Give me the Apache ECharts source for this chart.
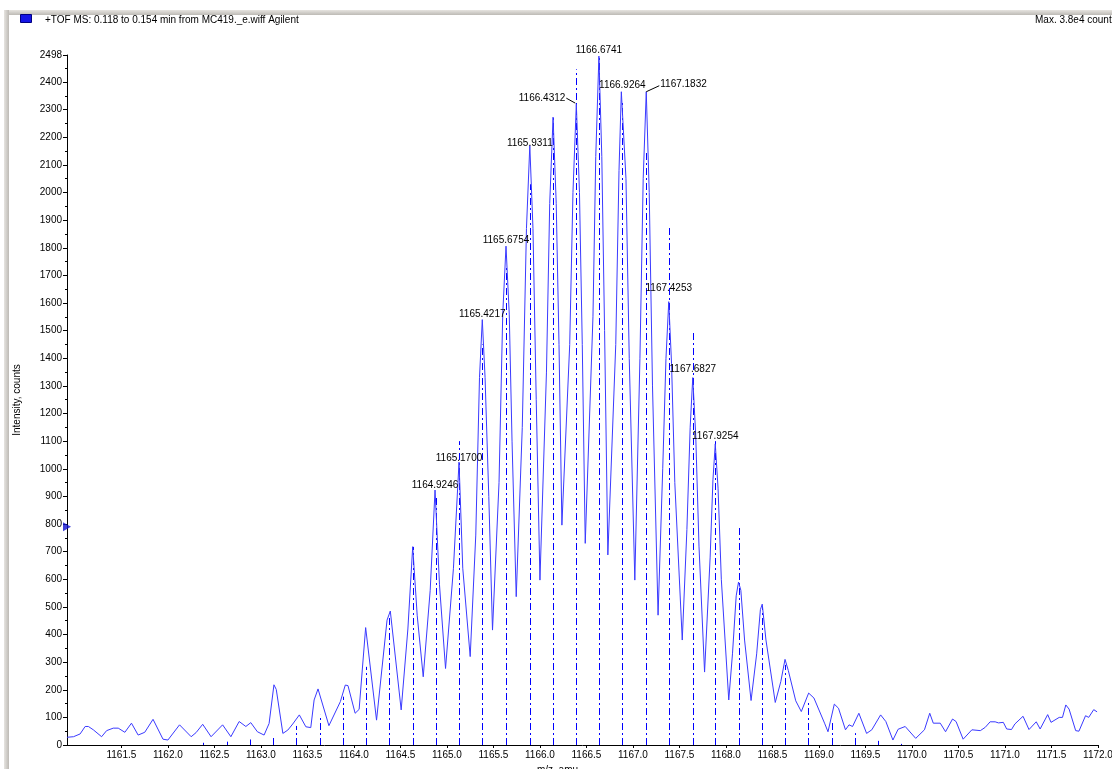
<!DOCTYPE html>
<html><head><meta charset="utf-8">
<script src="https://cdn.jsdelivr.net/npm/echarts@6/dist/echarts.min.js"></script>
<style>html,body{margin:0;padding:0;background:#fff;}#c{width:1112px;height:769px;}</style>
</head><body><div id="c"></div>
<script>
// ---- data ----
const profileMz = [1160.915,1160.985,1161.056,1161.11,1161.145,1161.198,1161.287,1161.341,1161.412,1161.466,1161.537,1161.608,1161.68,1161.751,1161.84,1161.947,1162.0,1162.125,1162.25,1162.303,1162.374,1162.464,1162.588,1162.677,1162.766,1162.838,1162.891,1162.962,1163.034,1163.088,1163.14,1163.165,1163.236,1163.289,1163.342,1163.413,1163.483,1163.536,1163.572,1163.614,1163.731,1163.854,1163.907,1163.936,1164.013,1164.056,1164.126,1164.243,1164.356,1164.391,1164.508,1164.58,1164.632,1164.68,1164.745,1164.82,1164.872,1164.92,1164.985,1165.07,1165.13,1165.17,1165.25,1165.31,1165.35,1165.38,1165.41,1165.45,1165.49,1165.56,1165.60,1165.635,1165.67,1165.70,1165.745,1165.81,1165.855,1165.891,1165.925,1165.96,1166.0,1166.07,1166.105,1166.141,1166.175,1166.205,1166.236,1166.32,1166.355,1166.391,1166.425,1166.455,1166.487,1166.57,1166.60,1166.634,1166.665,1166.695,1166.73,1166.815,1166.85,1166.875,1166.895,1166.925,1166.96,1167.02,1167.075,1167.11,1167.143,1167.175,1167.21,1167.27,1167.32,1167.355,1167.385,1167.415,1167.45,1167.53,1167.58,1167.615,1167.643,1167.675,1167.71,1167.77,1167.83,1167.86,1167.885,1167.915,1167.95,1168.03,1168.07,1168.11,1168.135,1168.16,1168.2,1168.27,1168.33,1168.37,1168.39,1168.43,1168.53,1168.59,1168.635,1168.67,1168.75,1168.81,1168.889,1168.946,1169.06,1169.097,1169.165,1169.21,1169.285,1169.323,1169.361,1169.429,1169.512,1169.568,1169.663,1169.719,1169.795,1169.851,1169.927,1170.04,1170.134,1170.191,1170.229,1170.304,1170.361,1170.436,1170.474,1170.55,1170.644,1170.735,1170.788,1170.84,1170.894,1170.93,1170.982,1171.018,1171.07,1171.106,1171.194,1171.258,1171.336,1171.378,1171.459,1171.495,1171.583,1171.618,1171.654,1171.689,1171.76,1171.795,1171.866,1171.90,1171.954,1171.99];
const profileInt = [28,30,40,67,67,55,30,52,61,61,46,79,36,46,93,21,18,73,30,45,75,30,73,30,85,67,81,48,36,78,218,201,42,54,76,109,66,63,163,203,70,157,217,215,115,129,425,90,452,485,127,420,718,470,247,560,923,580,277,640,1024,640,320,760,1330,1540,1330,900,416,950,1560,1806,1560,1100,537,1150,1870,2170,1870,1250,597,1350,1960,2273,1960,1450,796,1450,2000,2320,2000,1450,730,1550,2130,2494,2130,1500,688,1450,2080,2365,2360,2050,1400,597,1400,2050,2365,2000,1300,470,1000,1400,1605,1380,950,380,780,1150,1330,1120,720,264,680,960,1090,930,600,163,330,540,590,560,380,161,330,490,510,380,154,230,310,270,160,121,188,170,79,48,148,133,55,73,67,115,42,55,109,85,18,57,67,24,55,115,79,79,48,94,85,21,55,52,64,84,84,80,82,58,56,76,104,56,84,58,110,82,100,100,145,130,52,50,106,100,128,120];
const stickMz = [1162.38,1162.63,1162.88,1163.13,1163.38,1163.63,1163.88,1164.13,1164.38,1164.63,1164.885,1165.13,1165.382,1165.635,1165.891,1166.141,1166.391,1166.634,1166.886,1167.143,1167.385,1167.643,1167.885,1168.135,1168.385,1168.635,1168.885,1169.135,1169.385,1169.635,1169.885];
const stickInt = [8,12,20,28,69,109,175,283,470,717,900,1100,1450,1730,2030,2273,2446,2490,2330,2150,1880,1500,1100,795,500,290,163,90,43,15,4];
const peakLabelText = ['1164.9246','1165.1700','1165.4217','1165.6754','1165.9311','1166.4312','1166.6741','1166.9264','1167.1832','1167.4253','1167.6827','1167.9254'];
const peakLabelMz = [1164.872,1165.13,1165.38,1165.635,1165.891,1166.391,1166.634,1166.886,1167.143,1167.385,1167.643,1167.885];
const peakLabelInt = [923,1024,1540,1806,2170,2320,2494,2365,2365,1605,1330,1090];
const xTickValues = [1161.5,1162.0,1162.5,1163.0,1163.5,1164.0,1164.5,1165.0,1165.5,1166.0,1166.5,1167.0,1167.5,1168.0,1168.5,1169.0,1169.5,1170.0,1170.5,1171.0,1171.5,1172.0];
const yTickValues = [0,100,200,300,400,500,600,700,800,900,1000,1100,1200,1300,1400,1500,1600,1700,1800,1900,2000,2100,2200,2300,2400,2498];
const yMinorTickValues = [50,150,250,350,450,550,650,750,850,950,1050,1150,1250,1350,1450,1550,1650,1750,1850,1950,2050,2150,2250,2350,2450];
const xMin = 1160.915, xMax = 1172.0, yMin = 0, yMax = 2498;
const markerValue = 790;
const titleText = '+TOF MS: 0.118 to 0.154 min from MC419._e.wiff Agilent';
const maxText = 'Max. 3.8e4 counts.';

// ---- label placement (style only) ----
const labelPlace = {
  '1164.9246': {d: 0}, '1165.1700': {d: -1}, '1165.4217': {d: 0}, '1165.6754': {d: 1},
  '1165.9311': {d: -2.5}, '1166.6741': {d: 1}, '1166.9264': {d: 1},
  '1167.4253': {d: 8.5}, '1167.6827': {d: 3.5}, '1167.9254': {d: 3},
  '1166.4312': {side: 'left', dx: -11, dy: -6, leader: [[-10, -6], [-1, -1]]},
  '1167.1832': {side: 'right', dx: 14, dy: -7, leader: [[0, 0], [13, -6]]}
};

const FONT = '"Liberation Sans", Arial, sans-serif';
const chart = echarts.init(document.getElementById('c'), null, {renderer: 'canvas'});
const profile = profileMz.map((m, i) => [m, profileInt[i]]);
const sticks = stickMz.map((m, i) => [m, stickInt[i]]);
const labels = peakLabelMz.map((m, i) => [m, peakLabelInt[i], i]);

chart.setOption({
  animation: false,
  backgroundColor: '#ffffff',
  title: [
    {text: titleText, left: 45, top: 15, padding: 0, textStyle: {fontSize: 10, fontWeight: 'normal', fontFamily: FONT, color: '#000'}},
    {text: maxText, left: 1035, top: 15, padding: 0, textStyle: {fontSize: 10, fontWeight: 'normal', fontFamily: FONT, color: '#000'}}
  ],
  graphic: [
    {type: 'rect', left: 4, top: 10, shape: {width: 1108, height: 5}, style: {fill: new echarts.graphic.LinearGradient(0, 0, 0, 1, [{offset: 0, color: '#e6e4e0'}, {offset: 1, color: '#bdbab5'}])}, silent: true},
    {type: 'rect', left: 4, top: 10, shape: {width: 5, height: 759}, style: {fill: new echarts.graphic.LinearGradient(0, 0, 1, 0, [{offset: 0, color: '#e6e4e0'}, {offset: 1, color: '#bdbab5'}])}, silent: true},
    {type: 'rect', left: 20, top: 14, shape: {width: 11, height: 8}, style: {fill: '#1414e6', stroke: '#000080', lineWidth: 1}, silent: true}
  ],
  grid: {left: 67, right: 14, top: 55, bottom: 24, outerBoundsMode: 'none', containLabel: false},
  xAxis: [{
    type: 'value', min: xMin, max: xMax,
    name: 'm/z, amu', nameLocation: 'middle', nameGap: 18,
    nameTextStyle: {fontFamily: FONT, fontSize: 10, color: '#000', padding: [0, 50, 0, 0]},
    axisLine: {show: true, lineStyle: {color: '#000', width: 1}},
    axisTick: {show: true, length: 3, customValues: xTickValues, lineStyle: {color: '#000'}},
    axisLabel: {customValues: xTickValues, margin: 5, fontFamily: FONT, fontSize: 10, color: '#000', formatter: v => Number(v).toFixed(1)},
    splitLine: {show: false}
  }],
  yAxis: [{
    type: 'value', min: yMin, max: yMax,
    name: 'Intensity, counts', nameLocation: 'middle', nameGap: 45,
    nameTextStyle: {fontFamily: FONT, fontSize: 10, color: '#000'},
    axisLine: {show: true, lineStyle: {color: '#000', width: 1}},
    axisTick: {show: true, length: 4, customValues: yTickValues, lineStyle: {color: '#000'}},
    axisLabel: {customValues: yTickValues, margin: 5, fontFamily: FONT, fontSize: 10, color: '#000', formatter: v => String(Math.round(v))},
    splitLine: {show: false}
  }, {
    type: 'value', min: yMin, max: yMax, position: 'left',
    axisLine: {show: false},
    axisTick: {show: true, length: 2, customValues: yMinorTickValues, lineStyle: {color: '#000'}},
    axisLabel: {show: false},
    splitLine: {show: false}
  }],
  series: [
    {
      type: 'custom', name: 'sticks', data: sticks, z: 2, clip: false,
      renderItem: function (params, api) {
        const b = api.coord([api.value(0), 0]);
        const t = api.coord([api.value(0), api.value(1)]);
        const x = Math.round(b[0]) + 0.5;
        return {type: 'line', shape: {x1: x, y1: b[1], x2: x, y2: t[1]},
          style: {stroke: '#0000ff', lineWidth: 1, lineDash: [7, 3, 2, 3]}};
      }
    },
    {
      type: 'line', name: 'profile', data: profile, showSymbol: false, z: 3,
      lineStyle: {color: '#3a3aff', width: 1}, itemStyle: {color: '#3a3aff'}
    },
    {
      type: 'custom', name: 'labels', data: labels, z: 4, clip: false,
      renderItem: function (params, api) {
        const p = api.coord([api.value(0), api.value(1)]);
        const txt = peakLabelText[api.value(2)];
        const pl = labelPlace[txt] || {d: 0};
        const children = [];
        if (pl.side) {
          children.push({type: 'text', style: {text: txt, x: p[0] + pl.dx, y: p[1] + pl.dy,
            align: pl.side === 'left' ? 'right' : 'left', verticalAlign: 'middle',
            fill: '#000', fontSize: 10, fontFamily: FONT}});
          const pts = pl.leader.map(o => [p[0] + o[0], p[1] + o[1]]);
          children.push({type: 'polyline', shape: {points: pts}, style: {stroke: '#000', lineWidth: 1, fill: null}});
        } else {
          children.push({type: 'text', style: {text: txt, x: p[0], y: p[1] - pl.d,
            align: 'center', verticalAlign: 'bottom', fill: '#000', fontSize: 10, fontFamily: FONT}});
        }
        return {type: 'group', children: children};
      }
    },
    {
      type: 'scatter', name: 'marker', data: [[xMin, markerValue]], clip: false, z: 5,
      symbol: 'triangle', symbolRotate: -90, symbolSize: [9, 8],
      itemStyle: {color: '#1010d0'}, silent: true
    }
  ]
});
</script>
</body></html>
